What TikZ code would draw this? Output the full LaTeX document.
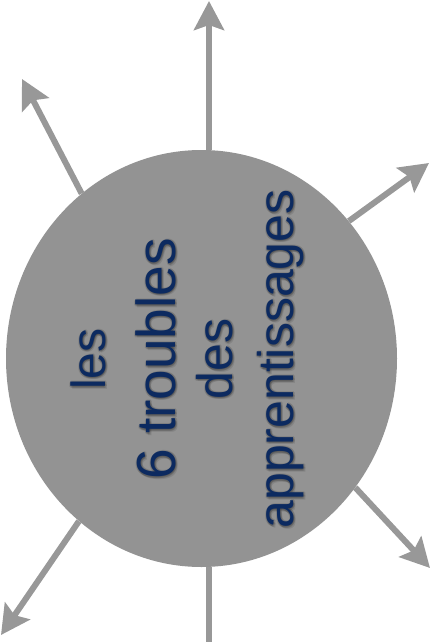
\documentclass[tikz,border=0pt]{standalone}
\usepackage{fontspec}
\setmainfont{Liberation Sans}
\usetikzlibrary{shapes.geometric,arrows.meta}
\definecolor{circgray}{RGB}{147,147,147}
\definecolor{arrgray}{RGB}{152,152,152}
\definecolor{navy}{RGB}{12,42,96}
\tikzset{
  blob/.style={ellipse,fill=circgray,draw=none,inner sep=0pt,minimum width=391pt,minimum height=417pt},
  ray/.style={draw=arrgray,line width=6pt},
  rayarrow/.style={ray,-{Stealth[length=29pt,width=30pt,inset=5pt]}},
  word/.style={rotate=90,anchor=base,inner sep=0pt,text=navy},
  wordshadow/.style={rotate=90,anchor=base,inner sep=0pt,text=black,opacity=0.1}
}
\begin{document}
\begin{tikzpicture}[x=1pt,y=-1pt]
\useasboundingbox (0,0) rectangle (430,642);
\node[blob] (c) at (201.5,358.5) {};
\coordinate (tTop) at (209,1);
\coordinate (tUL) at (22,79);
\coordinate (tUR) at (429,163);
\coordinate (tLR) at (430,568);
\coordinate (tLL) at (1,635);
\coordinate (tBot) at (209,642);
\draw[rayarrow] (tTop |- c.north) -- (tTop);
\draw[rayarrow] (c.126.6) -- (tUL);
\draw[rayarrow] (c.43.2) -- (tUR);
\draw[rayarrow] (c.-40.5) -- (tLR);
\draw[rayarrow] (c.233.1) -- (tLL);
\draw[ray] (tBot |- c.south) -- (tBot);
% soft text shadows
\foreach \dx/\dy in {1.5/1.5,2.5/2.5,0/2,2/0,-1/1,1/-1}{
  \node[wordshadow,font=\fontsize{48}{48}\selectfont] (s1) at (105+\dx,359+\dy) {les};
  \node[wordshadow,font=\fontsize{55}{55}\selectfont] (s2) at (175+\dx,359+\dy) {6 troubles};
  \node[wordshadow,font=\fontsize{50}{50}\selectfont] (s3) at (232+\dx,359+\dy) {des};
  \node[wordshadow,font=\fontsize{50}{50}\selectfont] (s4) at (293+\dx,359+\dy) {apprentissages};
}
\node[word,font=\fontsize{48}{48}\selectfont] (l1) at (105,359) {les};
\node[word,font=\fontsize{55}{55}\selectfont] (l2) at (175,359) {6 troubles};
\node[word,font=\fontsize{50}{50}\selectfont] (l3) at (232,359) {des};
\node[word,font=\fontsize{50}{50}\selectfont] (l4) at (293,359) {apprentissages};
\end{tikzpicture}
\end{document}
